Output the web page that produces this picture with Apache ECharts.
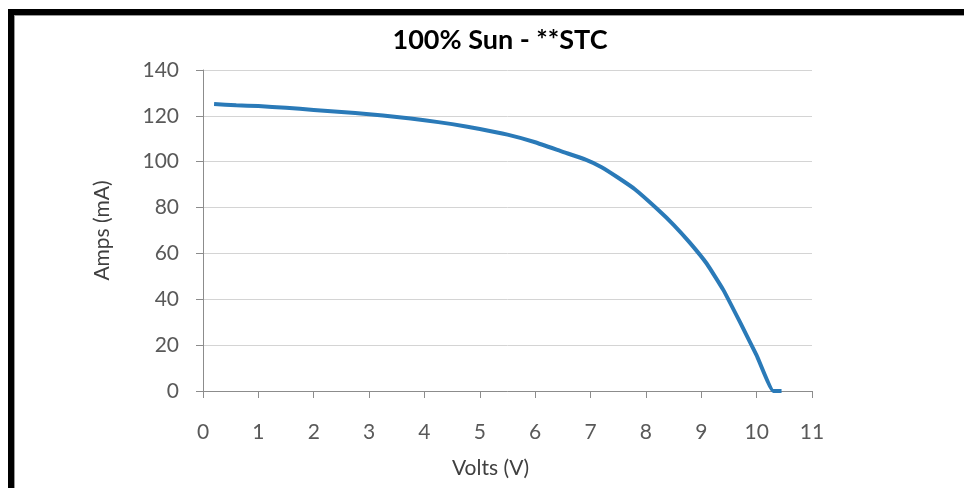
<!DOCTYPE html>
<html>
<head>
<meta charset="utf-8">
<script src="https://cdn.jsdelivr.net/npm/echarts@6/dist/echarts.min.js"></script>
<style>
html,body{margin:0;padding:0;background:#fff;}
#chart{width:964px;height:488px;}
</style>
</head>
<body>
<div id="chart"></div>
<script>
const titleText = '100% Sun - **STC';
const xName = 'Volts (V)';
const yName = 'Amps (mA)';
const volts = [0.2, 0.6, 1.0, 1.5, 2.0, 2.5, 3.0, 3.5, 4.0, 4.5, 5.0, 5.5, 6.0, 6.5, 6.9, 7.2, 7.5, 7.8, 8.2, 8.5, 8.8, 9.1, 9.4, 9.7, 10.0, 10.3, 10.45];
const amps  = [125.2, 124.6, 124.3, 123.5, 122.6, 121.7, 120.7, 119.5, 118.1, 116.4, 114.3, 111.8, 108.5, 104.3, 101.0, 97.6, 93.0, 88.0, 79.5, 72.5, 64.5, 55.5, 44.0, 30.0, 15.5, 0, 0];
const xTicks = [0,1,2,3,4,5,6,7,8,9,10,11];
const yTicks = [0,20,40,60,80,100,120,140];

const chart = echarts.init(document.getElementById('chart'), null, {renderer:'canvas'});
const font = 'Lato, "Open Sans", sans-serif';
chart.setOption({
  animation:false,
  backgroundColor:'#fff',
  title:{
    text:titleText, left:495, top:22, textAlign:'center',
    textStyle:{fontFamily:font, fontWeight:'bold', fontSize:27, color:'#000'}
  },
  grid:{left:203, right:152, top:70, bottom:97, containLabel:false},
  xAxis:{
    type:'value', min:xTicks[0], max:xTicks[xTicks.length-1], interval:1,
    name:xName, nameLocation:'middle', nameGap:67,
    nameTextStyle:{fontFamily:font, fontSize:21, color:'#404040', padding:[0,34,0,0]},
    axisLine:{lineStyle:{color:'#8c8c8c', width:1}},
    axisTick:{show:true, length:7, lineStyle:{color:'#8c8c8c'}},
    axisLabel:{fontFamily:font, fontSize:21, color:'#595959', margin:31},
    splitLine:{show:false}
  },
  yAxis:{
    type:'value', min:yTicks[0], max:yTicks[yTicks.length-1], interval:20,
    name:yName, nameLocation:'middle', nameGap:90, nameRotate:90,
    nameTextStyle:{fontFamily:font, fontSize:21, color:'#404040'},
    axisLine:{show:true, lineStyle:{color:'#8c8c8c', width:1}},
    axisTick:{show:true, length:7, lineStyle:{color:'#8c8c8c'}},
    axisLabel:{fontFamily:font, fontSize:21, color:'#595959', margin:24},
    splitLine:{show:true, lineStyle:{color:'#d4d4d4', width:1}}
  },
  series:[{
    type:'line', smooth:0.12, symbol:'none',
    data: volts.map((v,i)=>[v, amps[i]]),
    lineStyle:{color:'#2a7ab8', width:4},
    z:5
  }],
  graphic:[
    {type:'rect', shape:{x:8, y:9, width:956, height:6}, style:{fill:'#000'}, z:100},
    {type:'rect', shape:{x:8, y:9, width:6, height:479}, style:{fill:'#000'}, z:100},
    {type:'rect', shape:{x:14, y:15, width:950, height:1}, style:{fill:'#999'}, z:100},
    {type:'rect', shape:{x:14, y:15, width:1, height:473}, style:{fill:'#999'}, z:100}
  ]
});
</script>
</body>
</html>
